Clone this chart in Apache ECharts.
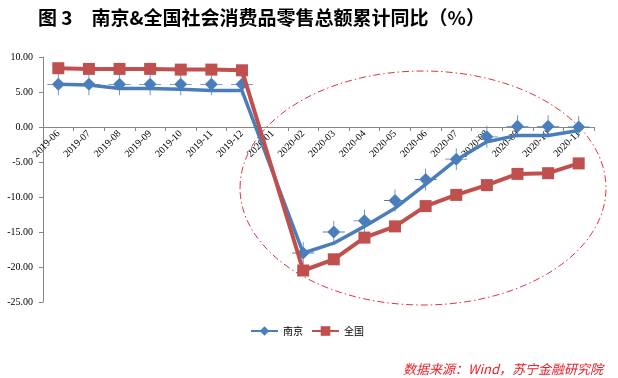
<!DOCTYPE html>
<html>
<head>
<meta charset="utf-8">
<script src="https://cdn.jsdelivr.net/npm/echarts@6/dist/echarts.min.js"></script>
<style>html,body{margin:0;padding:0;background:#fff}#c{width:618px;height:378px}</style>
</head>
<body>
<div id="c"></div>
<script>
var categories = ['2019-06','2019-07','2019-08','2019-09','2019-10','2019-11','2019-12','2020-01','2020-02','2020-03','2020-04','2020-05','2020-06','2020-07','2020-08','2020-09','2020-10','2020-11'];
var nanjingLine = [6.1, 6.0, 5.5, 5.5, 5.4, 5.2, 5.2, null, -18.0, -16.6, -14.2, -11.6, -8.2, -4.7, -2.1, -1.2, -1.2, -0.5];
var nanjingMarker = [6.1, 6.1, 6.1, 6.1, 6.1, 6.1, 6.1, null, -18.0, -15.0, -13.4, -10.5, -7.5, -4.6, -1.4, 0.1, 0.1, 0.0];
var quanguo = [8.4, 8.3, 8.3, 8.3, 8.2, 8.2, 8.1, null, -20.5, -18.9, -15.8, -14.2, -11.3, -9.7, -8.3, -6.7, -6.6, -5.2];
var yTicks = {min: -25, max: 10, interval: 5};

var blue = '#4a7ebb';
var red = '#c0504d';
var crossDiamond = 'path://M11,4.5 L17.5,11 L11,17.5 L4.5,11 Z M0,10.6 L22,10.6 L22,11.4 L0,11.4 Z M10.6,0 L11.4,0 L11.4,22 L10.6,22 Z';

var gridTop = 57, gridBottom = 76, chartH = 378;
var plotH = chartH - gridTop - gridBottom;
// place the category axis where value 0 falls on the value axis
var zeroOffset = -plotH * (0 - yTicks.min) / (yTicks.max - yTicks.min);

var chart = echarts.init(document.getElementById('c'));
chart.setOption({
  animation: false,
  backgroundColor: '#fff',
  title: [{
    text: '图 3　南京&全国社会消费品零售总额累计同比（%）',
    left: 33, top: 3,
    textStyle: {fontFamily: 'Noto Sans CJK SC', fontWeight: 'bold', fontSize: 19, color: '#000'}
  }, {
    text: '数据来源：Wind，苏宁金融研究院',
    right: 10, top: 358,
    textStyle: {fontFamily: 'Noto Sans CJK SC', fontStyle: 'italic', fontWeight: 'normal', fontSize: 13, color: '#e8202a'}
  }],
  legend: {
    data: ['南京', '全国'],
    left: 245, top: 321,
    itemWidth: 27, itemHeight: 12, itemGap: 8,
    textStyle: {fontFamily: 'Noto Sans CJK SC', fontSize: 10, color: '#000'}
  },
  grid: {left: 43, right: 24, top: gridTop, bottom: gridBottom},
  xAxis: {
    type: 'category',
    data: categories,
    boundaryGap: true,
    offset: zeroOffset,
    axisLine: {onZero: false, lineStyle: {color: '#868686', width: 1}},
    axisTick: {show: true, length: 4, interval: 0, lineStyle: {color: '#868686'}},
    axisLabel: {rotate: 45, interval: 0, margin: 5, fontFamily: 'Liberation Serif', fontSize: 10, color: '#000'},
    splitLine: {show: false},
    z: 1
  },
  yAxis: {
    type: 'value',
    min: yTicks.min, max: yTicks.max, interval: yTicks.interval,
    axisLine: {show: true, lineStyle: {color: '#868686', width: 1}},
    axisTick: {show: true, length: 4, lineStyle: {color: '#868686'}},
    axisLabel: {margin: 10, fontFamily: 'Liberation Serif', fontSize: 10, color: '#000',
      formatter: function (v) { return v.toFixed(2); }},
    splitLine: {show: false}
  },
  series: [{
    name: '南京',
    type: 'line',
    data: nanjingLine,
    connectNulls: true,
    symbol: 'diamond', symbolSize: 6, showSymbol: false,
    lineStyle: {color: blue, width: 3.5},
    itemStyle: {color: blue},
    z: 2
  }, {
    name: '南京标记',
    type: 'line',
    data: nanjingMarker,
    lineStyle: {width: 0, opacity: 0},
    symbol: crossDiamond, symbolSize: 22,
    itemStyle: {color: blue},
    z: 3
  }, {
    name: '全国',
    type: 'line',
    data: quanguo,
    connectNulls: true,
    symbol: 'rect', symbolSize: 12,
    lineStyle: {color: red, width: 4},
    itemStyle: {color: red},
    z: 4
  }],
  graphic: [{
    type: 'ellipse',
    shape: {cx: 423, cy: 188, rx: 183, ry: 117},
    style: {fill: 'none', stroke: '#dc3545', lineWidth: 1, lineDash: [7, 3, 1.5, 3]},
    z: 1
  }]
});
</script>
</body>
</html>
